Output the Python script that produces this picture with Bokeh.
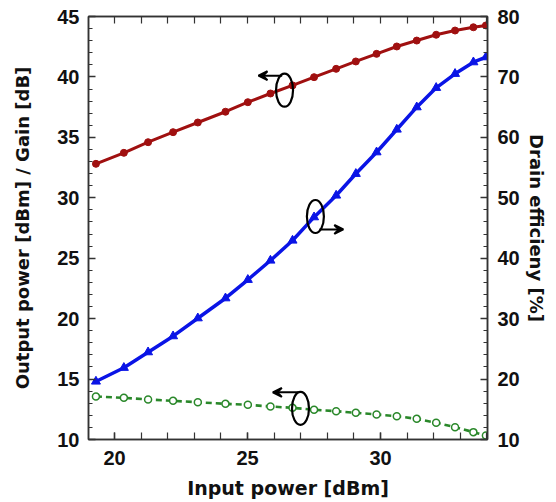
from bokeh.plotting import figure
from bokeh.models import LinearAxis, Range1d, FixedTicker, Arrow, VeeHead, Title
from bokeh.embed import file_html
from bokeh.resources import INLINE

# Input power [dBm]
pin = [19.3, 20.35, 21.26, 22.2, 23.13, 24.17, 25.01, 25.86, 26.69, 27.5,
       28.33, 29.07, 29.85, 30.61, 31.36, 32.09, 32.8, 33.49, 33.96]
# Output power [dBm]
pout = [32.81, 33.72, 34.60, 35.43, 36.23, 37.12, 37.91, 38.63, 39.3, 39.98,
        40.67, 41.28, 41.91, 42.52, 43.01, 43.49, 43.84, 44.11, 44.26]
# Drain efficiency [%]
eff = [19.6, 21.87, 24.45, 27.1, 30.07, 33.38, 36.43, 39.62, 42.93, 46.79,
       50.38, 53.97, 57.54, 61.30, 64.99, 68.20, 70.52, 72.44, 73.27]
# Gain [dB]
gain = [13.56, 13.45, 13.31, 13.20, 13.08, 12.95, 12.87, 12.73, 12.62, 12.46,
        12.34, 12.21, 12.07, 11.93, 11.71, 11.38, 11.02, 10.61, 10.33]

x_ticks = [20, 25, 30]
x_minor = list(range(19, 35))
yl_ticks = list(range(10, 46, 5))
yl_minor = list(range(10, 46))
yr_ticks = list(range(10, 81, 10))
yr_minor = list(range(10, 81, 2))

# annotation markers (ellipse centre x, y and arrow start/end)
ann_ellipse_x = [26.39, 27.55, 26.99]
ann_ellipse_y = [38.9, 28.45, 12.57]
ann_arrows = [(26.3, 40.1, 25.41), (27.7, 27.38, 28.6), (26.9, 13.9, 25.95)]

RED = "#a01010"
BLUE = "#0a14e6"
GREEN = "#2a882a"
TICK_FONT = "Liberation Sans"
LABEL_FONT = "DejaVu Sans"

p = figure(frame_width=399, frame_height=423,
           x_range=Range1d(19.02, 34.02), y_range=Range1d(10, 45),
           output_backend="svg", toolbar_location=None,
           min_border_left=88, min_border_top=16, min_border_right=20, min_border_bottom=60)
p.extra_y_ranges = {"eff": Range1d(10, 80)}
p.grid.visible = False
p.outline_line_color = "#333333"
p.outline_line_width = 1.5
p.background_fill_color = "white"
p.border_fill_color = "white"

def style(ax, ticks, minor, maj_in=7, min_in=4):
    ax.ticker = FixedTicker(ticks=ticks, minor_ticks=minor)
    ax.major_tick_in = maj_in
    ax.major_tick_out = 0
    ax.minor_tick_in = min_in
    ax.minor_tick_out = 0
    ax.axis_line_color = "#333333"
    ax.axis_line_width = 1.5
    ax.major_tick_line_color = "#333333"
    ax.minor_tick_line_color = "#333333"
    ax.major_tick_line_width = 1.5
    ax.minor_tick_line_width = 1.2
    ax.major_label_text_font = TICK_FONT
    ax.major_label_text_font_style = "bold"
    ax.major_label_text_font_size = "20px"
    ax.major_label_text_color = "#111111"
    ax.axis_label_text_font = LABEL_FONT
    ax.axis_label_text_font_style = "bold"
    ax.axis_label_text_font_size = "18px"
    ax.axis_label_text_color = "#111111"

xb = p.xaxis[0]
style(xb, x_ticks, x_minor, 7, 7)
xb.axis_label = "Input power [dBm]"
xb.axis_label_text_font_size = "19px"
xb.major_label_standoff = 11
xb.axis_label_standoff = 9

yl = p.yaxis[0]
style(yl, yl_ticks, yl_minor, 7, 4)
yl.axis_label = "Output power [dBm] / Gain [dB]"
yl.major_label_standoff = 9
yl.axis_label_standoff = 21

yr = LinearAxis(y_range_name="eff")
style(yr, yr_ticks, yr_minor, 7, 4)
yr.major_label_standoff = 10
p.add_layout(yr, "right")

xt = LinearAxis()
style(xt, [], x_minor, 7, 7)
p.add_layout(xt, "above")

# Right axis title, reading top to bottom
p.add_layout(Title(text="Drain efficieny [%]", align="center",
                   text_font=LABEL_FONT, text_font_style="bold", text_font_size="18px",
                   text_color="#111111", standoff=6), "right")

# Gain (left axis), dashed green with open circles
p.line(pin, gain, line_color=GREEN, line_width=2.6, line_dash="6 4")
p.scatter(pin, gain, marker="circle", size=7, line_color=GREEN, line_width=1.5, fill_color="white")

# Drain efficiency (right axis)
p.line(pin, eff, y_range_name="eff", line_color=BLUE, line_width=3.5)
p.scatter(pin, eff, y_range_name="eff", marker="triangle", size=9, line_color=BLUE, fill_color=BLUE)

# Output power (left axis)
p.line(pin, pout, line_color=RED, line_width=3)
p.scatter(pin, pout, marker="circle", size=7, line_color=RED, fill_color=RED)

# Annotation ellipses and arrows
p.ellipse(ann_ellipse_x, ann_ellipse_y, width=17, height=33, width_units="screen",
          height_units="screen", fill_color=None, line_color="black", line_width=2.2)
for xs, ys, xe in ann_arrows:
    p.add_layout(Arrow(end=VeeHead(size=9, line_color="black", fill_color="black", line_width=2),
                       x_start=xs, y_start=ys, x_end=xe, y_end=ys,
                       line_color="black", line_width=2))

open("out.html", "w").write(file_html(p, INLINE))
